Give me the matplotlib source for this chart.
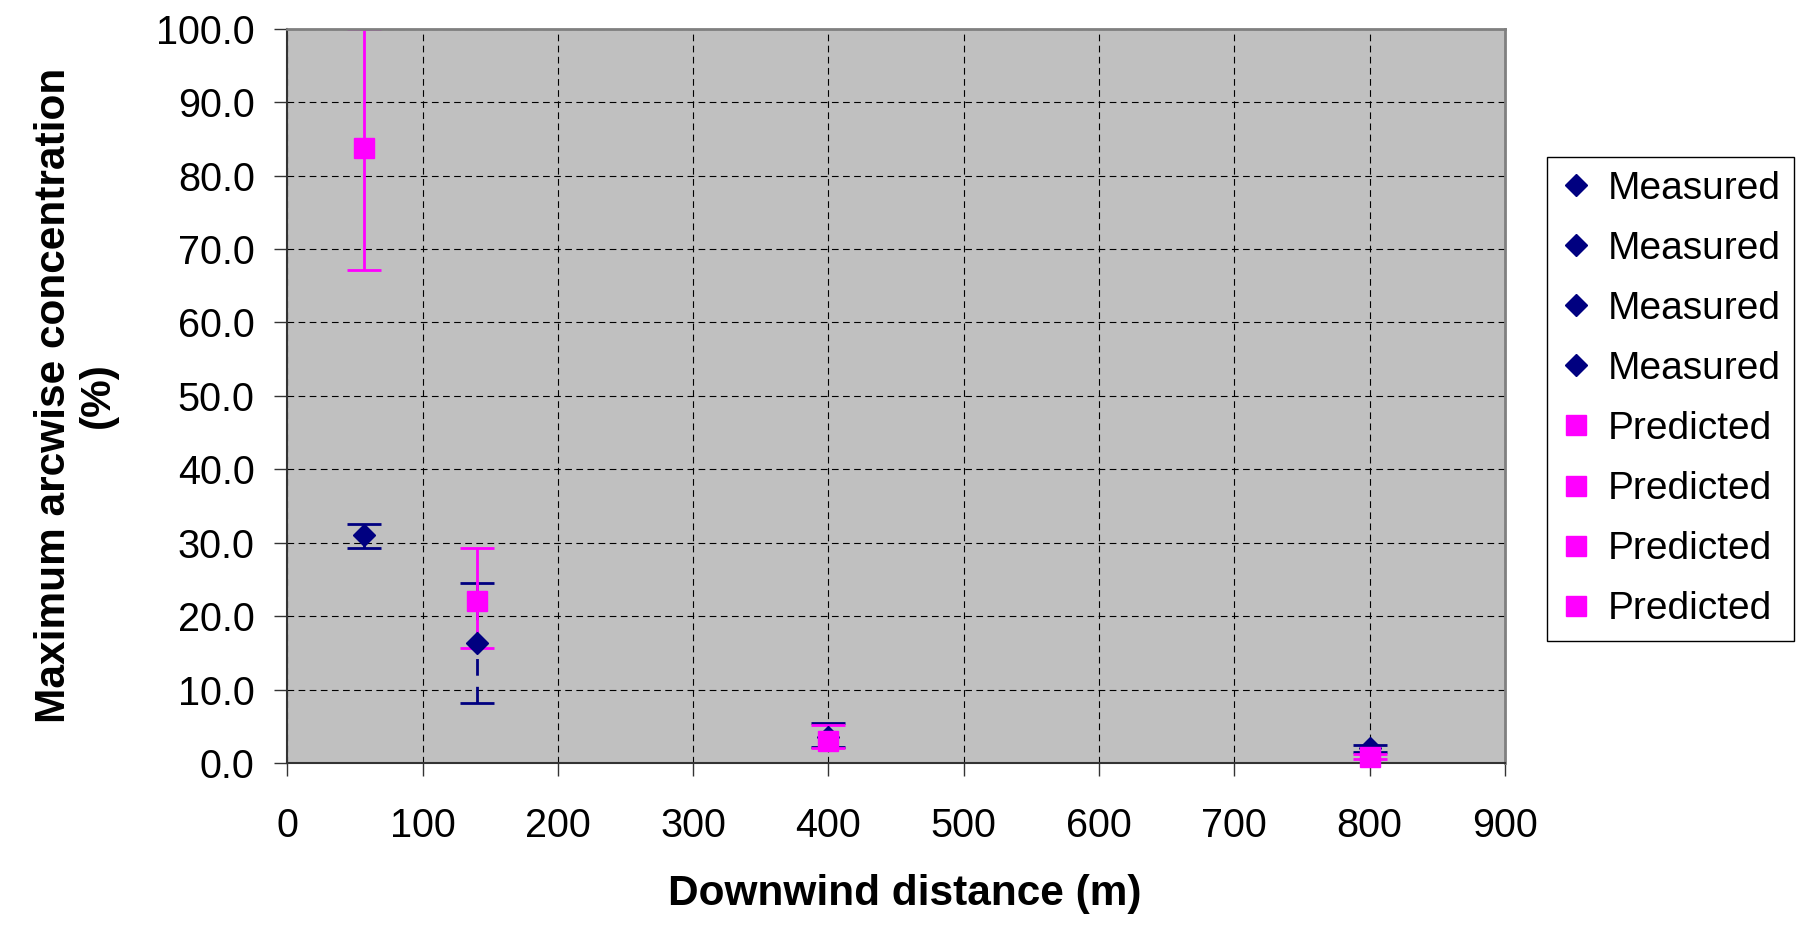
import numpy as np
import matplotlib.pyplot as plt

plt.rcParams['font.family'] = ['Liberation Sans', 'DejaVu Sans']

# measured arc maxima (one series per arc)
meas_x = [57, 140, 400, 800]
meas_y = [31.0, 16.3, 3.6, 2.0]
meas_lo = [29.3, 8.1, 2.2, 1.5]
meas_hi = [32.6, 24.5, 5.4, 2.5]
meas_style = ['-', '--', '-', '-']

# model predictions
pred_x = [57, 140, 400, 800]
pred_y = [83.8, 22.0, 3.0, 0.86]
pred_lo = [67.2, 15.6, 2.0, 0.5]
pred_hi = [100.0, 29.3, 5.2, 1.2]

x_ticks = np.arange(0, 901, 100)
y_ticks = np.arange(0, 101, 10)

navy = '#000080'
magenta = '#FF00FF'

fig = plt.figure(figsize=(17.97, 9.31), dpi=100)
ax = fig.add_axes([0.1599, 0.1805, 0.8374 - 0.1599, 0.9692 - 0.1805])
ax.set_facecolor('#C0C0C0')

handles = []

def draw_series(x, y, lo, hi, color, marker, ms, ls, label):
    err = [[y - lo], [hi - y]]
    eb = ax.errorbar([x], [y], yerr=err, fmt='none', ecolor=color,
                     elinewidth=2, capsize=12, capthick=2, zorder=2)
    for line in eb[2]:
        line.set_linestyle(ls)
    h, = ax.plot([x], [y], linestyle='none', marker=marker, ms=ms,
                 color=color, mec=color, zorder=3, clip_on=False, label=label)
    handles.append(h)

for i in range(4):
    draw_series(meas_x[i], meas_y[i], meas_lo[i], meas_hi[i], navy, 'D', 11.5,
                (0, (6, 4)) if meas_style[i] == '--' else '-', 'Measured')
for i in range(4):
    draw_series(pred_x[i], pred_y[i], pred_lo[i], pred_hi[i], magenta, 's', 15,
                '-', 'Predicted')

ax.set_xlim(0, 900)
ax.set_ylim(0, 100)
ax.set_xticks(x_ticks)
ax.set_yticks(y_ticks)
ax.set_yticklabels(['%.1f' % v for v in y_ticks])
ax.tick_params(axis='both', direction='out', length=9.5, width=1,
               color='#333333', labelsize=28.5)
ax.tick_params(axis='y', pad=14)
ax.tick_params(axis='x', pad=22)

ax.grid(True, color='black', linestyle=(0, (6, 4)), linewidth=0.8)
ax.set_axisbelow(True)

for side in ['left', 'bottom']:
    ax.spines[side].set_color('#333333')
    ax.spines[side].set_linewidth(1.5)
for side in ['top', 'right']:
    ax.spines[side].set_color('#808080')
    ax.spines[side].set_linewidth(2)

fig.text(0.5036, 0.0397, 'Downwind distance (m)', fontsize=30.5,
         fontweight='bold', ha='center', va='center')
fig.text(0.0423, 0.5757, 'Maximum arcwise concentration\n(%)', fontsize=30.5,
         fontweight='bold', ha='center', va='center', rotation=90,
         multialignment='center', linespacing=1.15)

leg = fig.legend(handles=handles, loc='upper left',
                 bbox_to_anchor=(1547 / 1797, 1 - 157 / 931),
                 fontsize=28, frameon=True, fancybox=False, framealpha=1,
                 edgecolor='black', handlelength=0.8, handletextpad=0.4,
                 labelspacing=0.62, borderpad=0.35, borderaxespad=0)
leg.get_frame().set_linewidth(1)

fig.savefig('out.png', dpi=100)
